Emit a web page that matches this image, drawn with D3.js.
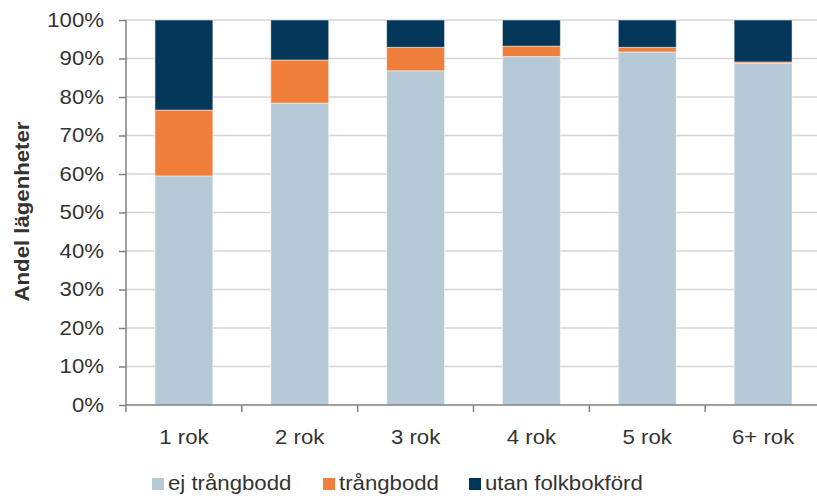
<!DOCTYPE html>
<html>
<head>
<meta charset="utf-8">
<script src="https://cdn.jsdelivr.net/npm/d3@7"></script>
<style>
	body { margin: 0; background: #fff; }
	text { font-family: "Liberation Sans", Arial, sans-serif; fill: #333; }
</style>
</head>
<body>
<div id="chart"></div>
<script>
var categories = ["1 rok", "2 rok", "3 rok", "4 rok", "5 rok", "6+ rok"];
var seriesNames = ["ej trångbodd", "trångbodd", "utan folkbokförd"];
var ejTrangbodd = [59.5, 78.4, 86.8, 90.5, 91.7, 88.7];
var trangbodd = [17.1, 11.2, 6.1, 2.7, 1.2, 0.4];
var utanFolkbokford = [23.4, 10.4, 7.1, 6.8, 7.1, 10.9];
var yTicks = [0, 10, 20, 30, 40, 50, 60, 70, 80, 90, 100];
var colors = ["#b5cad6", "#f07f3c", "#02375a"];

var width = 817, height = 496;
var margin = {left: 126, right: -4, top: 20, bottom: 91};
var fontSize = 20;
var stretch = 1.11;

var rows = categories.map(function(c, i) {
	return {cat: c, ej: ejTrangbodd[i], tr: trangbodd[i], utan: utanFolkbokford[i]};
});
var stack = d3.stack().keys(["ej", "tr", "utan"]);
var layers = stack(rows);

var xScale = d3.scaleBand()
	.domain(categories)
	.range([margin.left, width - margin.right])
	.paddingInner(0.5)
	.paddingOuter(0.25)
;

var yScale = d3.scaleLinear()
	.domain([0, 100])
	.range([height - margin.bottom, margin.top])
;

var svg = d3.select("#chart")
	.append("svg")
	.attr("width", width)
	.attr("height", height)
;

// gridlines
svg.append("g")
	.selectAll("line")
	.data(yTicks.slice(1))
	.enter()
	.append("line")
	.attr("x1", margin.left)
	.attr("x2", width - margin.right)
	.attr("y1", function(d) { return yScale(d); })
	.attr("y2", function(d) { return yScale(d); })
	.attr("stroke", "#d4d4d4")
	.attr("stroke-width", 1.5)
;

// bars
svg.append("g")
	.selectAll("g")
	.data(layers)
	.enter()
	.append("g")
	.attr("fill", function(d, i) { return colors[i]; })
	.selectAll("rect")
	.data(function(d) { return d; })
	.enter()
	.append("rect")
	.attr("x", function(d) { return xScale(d.data.cat); })
	.attr("width", xScale.bandwidth())
	.attr("y", function(d) { return yScale(d[1]); })
	.attr("height", function(d) { return yScale(d[0]) - yScale(d[1]); })
	.attr("stroke", "#ffffff")
	.attr("stroke-opacity", 0.5)
	.attr("stroke-width", 1)
;

// y axis
var yAxis = d3.axisLeft(yScale)
	.tickValues(yTicks)
	.tickSize(7)
	.tickFormat(function(d) { return d + "%"; })
;
var yg = svg.append("g")
	.attr("transform", "translate(" + margin.left + ",0)")
	.call(yAxis)
;

// x axis
var xAxis = d3.axisBottom(xScale)
	.tickSize(0)
	.tickPadding(20)
;
var xg = svg.append("g")
	.attr("transform", "translate(0," + yScale(0) + ")")
	.call(xAxis)
;

// tick marks between categories
xg.selectAll("line.sep")
	.data(d3.range(categories.length + 1))
	.enter()
	.append("line")
	.attr("class", "sep")
	.attr("x1", function(i) { return margin.left + i * xScale.step(); })
	.attr("x2", function(i) { return margin.left + i * xScale.step(); })
	.attr("y1", 0)
	.attr("y2", 7)
;

[yg, xg].forEach(function(g) {
	g.select(".domain").attr("stroke", "#808080").attr("stroke-width", 1.5);
	g.selectAll("line").attr("stroke", "#808080").attr("stroke-width", 1.5);
	g.selectAll("text")
		.attr("font-size", fontSize)
		.attr("fill", "#333")
		.style("font-family", '"Liberation Sans", Arial, sans-serif')
	;
});
yg.select(".domain").attr("d", "M0," + yScale(100) + "V" + yScale(0));
xg.select(".domain").attr("d", "M" + margin.left + ",0H" + (width - margin.right));

// widen glyphs a little, like the original
yg.selectAll(".tick text")
	.attr("transform", "translate(-22,0) scale(" + stretch + ",1)")
	.attr("x", 0)
;
xg.selectAll(".tick text")
	.attr("transform", "scale(" + stretch + ",1)")
	.attr("dy", "0.95em")
;

/*
	Axis title
*/
svg.append("text")
	.attr("transform", "translate(29," + (yScale(50) - 1) + ") rotate(-90) scale(" + stretch + ",1)")
	.attr("text-anchor", "middle")
	.attr("font-size", fontSize)
	.attr("font-weight", "bold")
	.text("Andel lägenheter")
;

/*
	Legend
*/
var legendX = [152, 323, 469];
var legend = svg.append("g")
	.selectAll("g")
	.data(seriesNames)
	.enter()
	.append("g")
	.attr("transform", function(d, i) { return "translate(" + legendX[i] + ",478)"; })
;
legend.append("rect")
	.attr("width", 12)
	.attr("height", 12)
	.attr("fill", function(d, i) { return colors[i]; })
;
legend.append("text")
	.attr("transform", "translate(16,12) scale(" + stretch + ",1)")
	.attr("font-size", fontSize)
	.text(function(d) { return d; })
;
</script>
</body>
</html>
